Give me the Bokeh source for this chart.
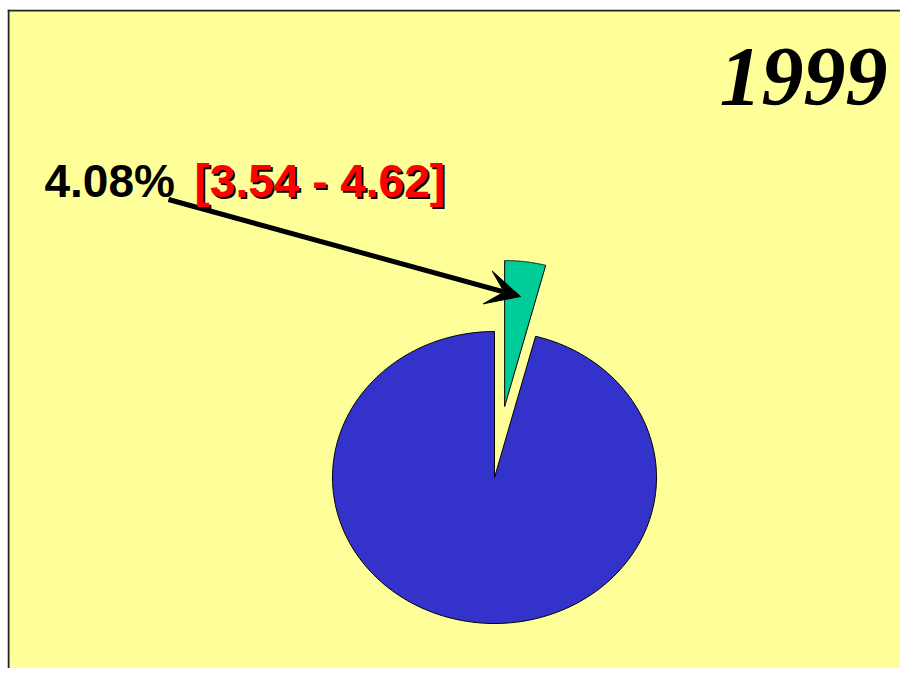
import numpy as np
from bokeh.plotting import figure
from bokeh.models import Range1d, Label, Arrow, VeeHead, Span
from bokeh.embed import file_html
from bokeh.resources import INLINE

# ---- data ----
year = "1999"
categories = ["Highlighted", "Rest"]
shares = [4.08, 95.92]
ci_low = [3.54]
ci_high = [4.62]
slice_colors = ["#00CC99", "#3333CC"]
explode = [0.49, 0.0]

W, H = 900, 668
L, T = 7, 9
p = figure(width=W, height=H, x_range=Range1d(L, W), y_range=Range1d(H, T),
           output_backend="svg", toolbar_location=None,
           min_border_left=L, min_border_top=T, min_border_right=0, min_border_bottom=0)
p.axis.visible = False
p.grid.visible = False
p.background_fill_color = "#FFFF99"
p.border_fill_color = "white"
p.outline_line_color = None

# frame border only on left and top (the rest runs off the page)
p.add_layout(Span(location=L + 1, dimension="height", line_color="#222222", line_width=2))
p.add_layout(Span(location=T + 1, dimension="width", line_color="#222222", line_width=2))

# pie geometry (elliptical, clockwise from 12 o'clock)
cx, cy, rx, ry = 494, 477, 162, 146
total = float(sum(shares))
xs, ys = [], []
start = 0.0
for s, e in zip(shares, explode):
    a0 = start
    a1 = start + 2 * np.pi * s / total
    mid = (a0 + a1) / 2
    ox = e * rx * np.sin(mid)
    oy = -e * ry * np.cos(mid)
    t = np.linspace(a0, a1, 200)
    px = np.concatenate([[cx], cx + rx * np.sin(t)]) + ox
    py = np.concatenate([[cy], cy - ry * np.cos(t)]) + oy
    xs.append(list(px))
    ys.append(list(py))
    start = a1

p.patches(xs, ys, fill_color=slice_colors, line_color="black", line_width=1)

# arrow
p.add_layout(Arrow(end=VeeHead(size=34, fill_color="black", line_color="black"),
                   x_start=168, y_start=199, x_end=520, y_end=296,
                   line_color="black", line_width=5))

pct_text = f"{shares[0]:.2f}%"
ci_text = f"[{ci_low[0]:.2f} - {ci_high[0]:.2f}]"

common = dict(text_font="Liberation Sans", text_font_style="bold",
              text_font_size="46px", text_baseline="alphabetic")
p.add_layout(Label(x=44, y=180, text=pct_text, text_color="black", **common))
p.add_layout(Label(x=196, y=182, text=ci_text, text_color="black", **common))
p.add_layout(Label(x=194, y=180, text=ci_text, text_color="#FF0000", **common))

p.add_layout(Label(x=887, y=76, text=year, text_color="black",
                   text_font="Liberation Serif", text_font_style="bold italic",
                   text_font_size="84px", text_align="right",
                   text_baseline="alphabetic"))

open("out.html", "w").write(file_html(p, INLINE))
